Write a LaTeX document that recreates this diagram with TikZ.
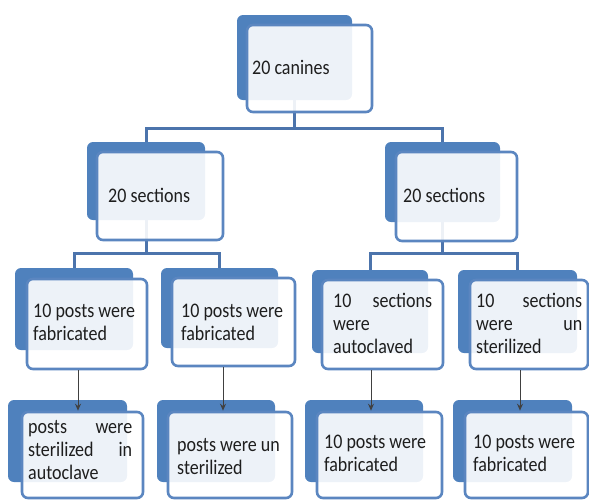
\documentclass[tikz,border=0pt]{standalone}
\usepackage{fontspec}
\setmainfont{Carlito}
\usepackage{graphicx}
\usetikzlibrary{arrows.meta,calc,fit}
\pgfdeclarelayer{bg}
\pgfsetlayers{bg,main}
\definecolor{bblue}{HTML}{4F81BD}
\definecolor{lblue}{HTML}{5B86C0}
\definecolor{cblue}{HTML}{4C74AC}
\definecolor{tgray}{HTML}{1E1E1E}
\newcommand\ml[1]{\scalebox{1}[1.15]{\begin{tabular}{@{}l@{}}#1\end{tabular}}}
\newcommand\twobox[9]{%
  \node[backbox, fit={(#2,#3)(#4,#5)}] (#1b) {};
  \node[frontbox, fit={(#6,#7)(#8,#9)}] (#1f) {};}
\tikzset{
  backbox/.style={fill=bblue, draw=none, rounded corners=6pt, inner sep=0pt},
  frontbox/.style={fill=white, fill opacity=0.9, draw=lblue, draw opacity=1, line width=2.6pt, rounded corners=6pt, inner sep=0pt},
  conn/.style={draw=cblue, line width=3pt},
  arr/.style={draw=tgray!85, line width=1pt, -{Stealth[length=7pt,width=6pt]}},
  lbl/.style={anchor=west, inner sep=0pt, text=tgray, font=\fontsize{18}{20}\selectfont},
}
\begin{document}
\begin{tikzpicture}[x=1pt,y=-1pt]
\useasboundingbox (0,0) rectangle (589,499);
% boxes
\twobox{T}{237}{15}{352}{100}{247}{25}{372}{112}
\twobox{La}{87}{142}{205}{220}{97}{152}{223}{240}
\twobox{Lb}{385}{142}{500}{222}{396}{152}{517}{241}
\twobox{Ma}{15}{268}{133}{350}{27}{279}{147}{369}
\twobox{Mb}{161}{268}{278}{348}{172}{278}{295}{366}
\twobox{Mc}{312}{270}{428}{353}{322}{280}{443}{369}
\twobox{Md}{458}{270}{577}{353}{470}{280}{588}{369}
\twobox{Na}{8}{400}{127}{482}{22}{412}{143}{498}
\twobox{Nb}{157}{400}{275}{482}{168}{412}{292}{498}
\twobox{Nc}{305}{400}{423}{482}{317}{412}{442}{498}
\twobox{Nd}{453}{400}{572}{482}{465}{412}{588}{498}
% connectors
\begin{pgfonlayer}{bg}
\coordinate (j1) at (294.5,128);
\coordinate (j2) at (146,253);
\coordinate (j3) at (442.5,253);
\draw[conn] (Tb.center) -- (j1);
\draw[conn] (Lab.center) |- (j1) -| (Lbb.center);
\draw[conn] (Lab.center) -- (j2);
\draw[conn] (Mab.center) |- (j2) -| (Mbb.center);
\draw[conn] (Lbb.center) -- (j3);
\draw[conn] (Mcb.center) |- (j3) -| (Mdb.center);
\end{pgfonlayer}
% arrows
\coordinate (xa) at (78,0);
\coordinate (xb) at (223,0);
\coordinate (xc) at (371,0);
\coordinate (xd) at (520,0);
\draw[arr] (Maf.south -| xa) -- (Naf.north -| xa);
\draw[arr] (Mbf.south -| xb) -- (Nbf.north -| xb);
\draw[arr] (Mcf.south -| xc) -- (Ncf.north -| xc);
\draw[arr] (Mdf.south -| xd) -- (Ndf.north -| xd);
% labels
\node[lbl] (tT) at (252,70) {\ml{20 canines}};
\node[lbl] (tLa) at (108,198) {\ml{20 sections}};
\node[lbl] (tLb) at (403,198) {\ml{20 sections}};
\node[lbl] (tMa) at (33,324) {\ml{10 posts were\\fabricated}};
\node[lbl] (tMb) at (181,324) {\ml{10 posts were\\fabricated}};
\node[lbl] (tMc) at (333,326) {\ml{\makebox[99pt][s]{10 sections}\\were\\autoclaved}};
\node[lbl] (tMd) at (476,326) {\ml{\makebox[106pt][s]{10 sections}\\\makebox[106pt][s]{were un}\\sterilized}};
\node[lbl] (tNa) at (28,452) {\ml{\makebox[104pt][s]{posts were}\\\makebox[104pt][s]{sterilized in}\\autoclave}};
\node[lbl] (tNb) at (177,458) {\ml{posts were un\\sterilized}};
\node[lbl] (tNc) at (324,455) {\ml{10 posts were\\fabricated}};
\node[lbl] (tNd) at (473,455) {\ml{10 posts were\\fabricated}};
\end{tikzpicture}
\end{document}
